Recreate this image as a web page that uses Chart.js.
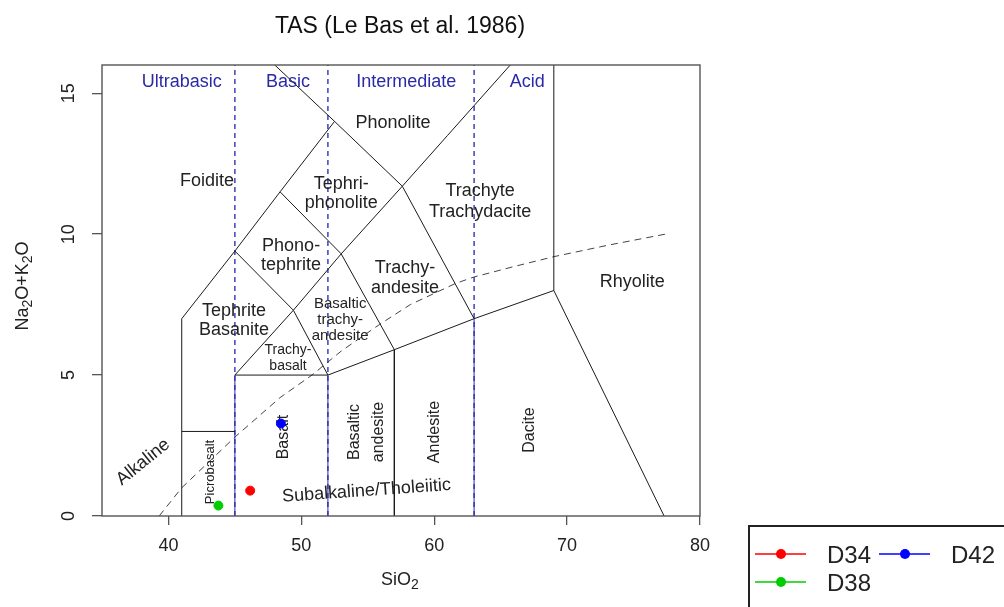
<!DOCTYPE html>
<html>
<head>
<meta charset="utf-8">
<title>TAS</title>
<script src="https://cdn.jsdelivr.net/npm/chart.js@4.4.1/dist/chart.umd.min.js"></script>
<style>
    html, body { margin: 0; padding: 0; background: #fff; }
    #wrap { width: 1004px; height: 607px; }
</style>
</head>
<body>
<div id="wrap"><canvas id="tasChart" width="1004" height="607"></canvas></div>
<script>
// --- dados ---
const siO2Ticks = [40, 50, 60, 70, 80];
const alkTicks = [0, 5, 10, 15];

const sampleNames = ['D34', 'D38', 'D42'];
const sampleSiO2 = [46.15, 43.76, 48.46];
const sampleAlk = [0.90, 0.37, 3.28];
const sampleColors = ['#ff0000', '#00cd00', '#0000ff'];

// limites dos campos (SiO2, Na2O+K2O)
const foiditeLine = [[41, 0], [41, 7], [45, 9.4], [48.4, 11.5], [52.5, 14]];
const phonoliteLine = [[48, 16], [52.5, 14], [57.6, 11.7], [63, 7]];
const trachyteLine = [[57.6, 11.7], [61, 13.5], [65.72, 16]];
const picroTop = [[41, 3], [45, 3]];
const basaltTop = [[45, 5], [52, 5]];
const tephriteLine = [[45, 9.4], [49.4, 7.3], [52, 5]];
const btaLine = [[45, 5], [49.4, 7.3], [53, 9.3], [57.6, 11.7]];
const ptLine = [[48.4, 11.5], [53, 9.3], [57, 5.9], [57, 0]];
const subalkTop = [[52, 5], [57, 5.9], [63, 7], [69, 8], [77.3, 0]];
const rhyoliteLine = [[69, 8], [69, 16]];
const silicaLow = [[[45, 0], [45, 5]], [[52, 0], [52, 5]], [[63, 0], [63, 7]]];

// divisões de sílica
const silicaSplits = [45, 52, 63];
const silicaNames = ['Ultrabasic', 'Basic', 'Intermediate', 'Acid'];
const silicaNameX = [41.0, 49.0, 57.9, 67.0];

// curva alcalina / subalcalina
const alkCurveSiO2 = [39.3, 41, 45, 48.4, 50.8, 53, 55.9, 58.2, 61.6, 63, 66, 69, 73, 77.4];
const alkCurveAlk = [0, 1.0, 2.8, 4.2, 5.0, 5.85, 6.8, 7.5, 8.25, 8.48, 8.85, 9.2, 9.6, 10.0];

// nomes dos campos
const fieldLabels = [
    { t: ['Phonolite'], x: 56.9, y: 13.93, size: 18 },
    { t: ['Foidite'], x: 42.9, y: 11.9, size: 18 },
    { t: ['Tephri-', 'phonolite'], x: 53.0, y: 11.43, size: 18, lh: 19 },
    { t: ['Trachyte', 'Trachydacite'], x: 63.45, y: 11.14, size: 18, lh: 21 },
    { t: ['Phono-', 'tephrite'], x: 49.23, y: 9.24, size: 18, lh: 19 },
    { t: ['Trachy-', 'andesite'], x: 57.8, y: 8.43, size: 18, lh: 20 },
    { t: ['Rhyolite'], x: 74.9, y: 8.29, size: 18 },
    { t: ['Tephrite', 'Basanite'], x: 44.94, y: 6.93, size: 18, lh: 19 },
    { t: ['Basaltic', 'trachy-', 'andesite'], x: 52.92, y: 6.95, size: 15, lh: 16 },
    { t: ['Trachy-', 'basalt'], x: 49.0, y: 5.6, size: 14, lh: 16 },
    { t: ['Picrobasalt'], x: 43.14, y: 1.56, size: 13, rot: -90 },
    { t: ['Basalt'], x: 48.63, y: 2.8, size: 16, rot: -90 },
    { t: ['Basaltic', 'andesite'], x: 54.9, y: 2.98, size: 16, lh: 24, rot: -90 },
    { t: ['Andesite'], x: 60.06, y: 2.98, size: 16, rot: -90 },
    { t: ['Dacite'], x: 67.2, y: 3.05, size: 16, rot: -90 },
    { t: ['Alkaline'], x: 38.1, y: 1.91, size: 18, rot: -39 },
    { t: ['Subalkaline/Tholeiitic'], x: 54.9, y: 0.89, size: 18, rot: -4 }
];

const FONT = '"Liberation Sans", Arial, Helvetica, sans-serif';
const toXY = arr => arr.map(p => ({ x: p[0], y: p[1] }));

function linha(pts, extra) {
    return Object.assign({
        data: toXY(pts),
        showLine: true,
        pointRadius: 0,
        borderColor: '#1a1a1a',
        borderWidth: 1,
        fill: false
    }, extra || {});
}

// --- datasets: amostras primeiro (ficam por cima) ---
const datasets = [];
sampleNames.forEach((nome, i) => {
    datasets.push({
        label: nome,
        data: [{ x: sampleSiO2[i], y: sampleAlk[i] }],
        pointRadius: 4.5,
        pointBackgroundColor: sampleColors[i],
        pointBorderColor: sampleColors[i],
        showLine: false
    });
});
const firstLineIdx = datasets.length;
[foiditeLine, phonoliteLine, trachyteLine, picroTop, basaltTop, tephriteLine,
 btaLine, ptLine, subalkTop, rhyoliteLine].forEach(l => datasets.push(linha(l)));
silicaLow.forEach(l => datasets.push(linha(l, { borderColor: '#2b2ba8' })));
silicaSplits.forEach(s => datasets.push(linha([[s, 0], [s, 16]], { borderColor: '#2323b0', borderDash: [5, 4], borderWidth: 1.3 })));
datasets.push({
    data: alkCurveSiO2.map((v, i) => ({ x: v, y: alkCurveAlk[i] })),
    showLine: true, pointRadius: 0, borderColor: '#444', borderWidth: 1,
    borderDash: [7, 5], fill: false
});

function textoMultilinha(ctx, lines, px, py, rot, size, lh, color) {
    ctx.save();
    ctx.translate(px, py);
    ctx.rotate((rot || 0) * Math.PI / 180);
    ctx.font = size + 'px ' + FONT;
    ctx.fillStyle = color;
    ctx.textAlign = 'center';
    ctx.textBaseline = 'middle';
    const n = lines.length;
    lines.forEach((t, i) => ctx.fillText(t, 0, (i - (n - 1) / 2) * (lh || size)));
    ctx.restore();
}

// texto com subscrito: partes [texto, ehSub]
function textoSub(ctx, parts, px, py, rot, size) {
    ctx.save();
    ctx.translate(px, py);
    ctx.rotate(rot * Math.PI / 180);
    ctx.fillStyle = '#222';
    ctx.textBaseline = 'middle';
    ctx.textAlign = 'left';
    const subSize = Math.round(size * 0.75);
    let total = 0;
    parts.forEach(p => { ctx.font = (p[1] ? subSize : size) + 'px ' + FONT; total += ctx.measureText(p[0]).width; });
    let cx = -total / 2;
    parts.forEach(p => {
        ctx.font = (p[1] ? subSize : size) + 'px ' + FONT;
        ctx.fillText(p[0], cx, p[1] ? 5 : 0);
        cx += ctx.measureText(p[0]).width;
    });
    ctx.restore();
}

const tasPlugin = {
    id: 'tasPlugin',
    afterDatasetDraw(chart, args) {
        // rótulos depois das linhas e antes dos pontos
        if (args.index !== firstLineIdx) return;
        const ctx = chart.ctx;
        const xs = chart.scales.x, ys = chart.scales.y;
        fieldLabels.forEach(l => {
            textoMultilinha(ctx, l.t, xs.getPixelForValue(l.x), ys.getPixelForValue(l.y), l.rot, l.size, l.lh, '#222');
        });
        silicaNames.forEach((t, i) => {
            textoMultilinha(ctx, [t], xs.getPixelForValue(silicaNameX[i]), ys.getPixelForValue(15.41), 0, 18, 0, '#2a2aa8');
        });
    },
    afterDraw(chart) {
        const ctx = chart.ctx;
        const a = chart.chartArea;
        const ys = chart.scales.y;

        // caixa
        ctx.save();
        ctx.strokeStyle = '#555';
        ctx.lineWidth = 1.4;
        ctx.strokeRect(a.left, a.top, a.right - a.left, a.bottom - a.top);
        ctx.restore();

        // rótulos do eixo y (verticais, como no R)
        alkTicks.forEach(v => textoMultilinha(ctx, [String(v)], 69, ys.getPixelForValue(v), -90, 18, 0, '#222'));

        // título e eixos
        textoMultilinha(ctx, ['TAS (Le Bas et al. 1986)'], 400, 27, 0, 23, 0, '#111');
        textoSub(ctx, [['SiO', false], ['2', true]], 400, 580, 0, 18);
        textoSub(ctx, [['Na', false], ['2', true], ['O+K', false], ['2', true], ['O', false]], 23, 286, -90, 18);

        // legenda
        ctx.save();
        ctx.strokeStyle = '#222';
        ctx.lineWidth = 2;
        ctx.strokeRect(749, 526, 300, 100);
        const pos = [[755, 554], [755, 582], [879, 554]];
        sampleNames.forEach((nome, i) => {
            const [lx, ly] = pos[i];
            ctx.strokeStyle = sampleColors[i];
            ctx.lineWidth = 1.5;
            ctx.beginPath();
            ctx.moveTo(lx, ly);
            ctx.lineTo(lx + 51, ly);
            ctx.stroke();
            ctx.fillStyle = sampleColors[i];
            ctx.beginPath();
            ctx.arc(lx + 26, ly, 5, 0, Math.PI * 2);
            ctx.fill();
            ctx.fillStyle = '#222';
            ctx.font = '24px ' + FONT;
            ctx.textAlign = 'left';
            ctx.textBaseline = 'middle';
            ctx.fillText(nome, lx + 72, ly + 2);
        });
        ctx.restore();
    }
};

new Chart(document.getElementById('tasChart').getContext('2d'), {
    type: 'scatter',
    data: { datasets: datasets },
    options: {
        responsive: false,
        animation: false,
        events: [],
        layout: { padding: { top: 65, right: 304, left: 0, bottom: 0 } },
        plugins: { legend: { display: false }, tooltip: { enabled: false } },
        scales: {
            x: {
                type: 'linear', min: 35, max: 80,
                afterBuildTicks: s => { s.ticks = siO2Ticks.map(v => ({ value: v })); },
                afterFit: s => { s.height = 91; },
                border: { display: false },
                grid: { drawOnChartArea: false, drawTicks: true, tickLength: 9, color: '#555', lineWidth: 1.3 },
                ticks: { color: '#222', padding: 10, maxRotation: 0, font: { size: 18, family: FONT } }
            },
            y: {
                type: 'linear', min: 0, max: 16,
                afterBuildTicks: s => { s.ticks = alkTicks.map(v => ({ value: v })); },
                afterFit: s => { s.width = 102; },
                border: { display: false },
                grid: { drawOnChartArea: false, drawTicks: true, tickLength: 10, color: '#555', lineWidth: 1.3 },
                ticks: { display: false }
            }
        }
    },
    plugins: [tasPlugin]
});
</script>
</body>
</html>
